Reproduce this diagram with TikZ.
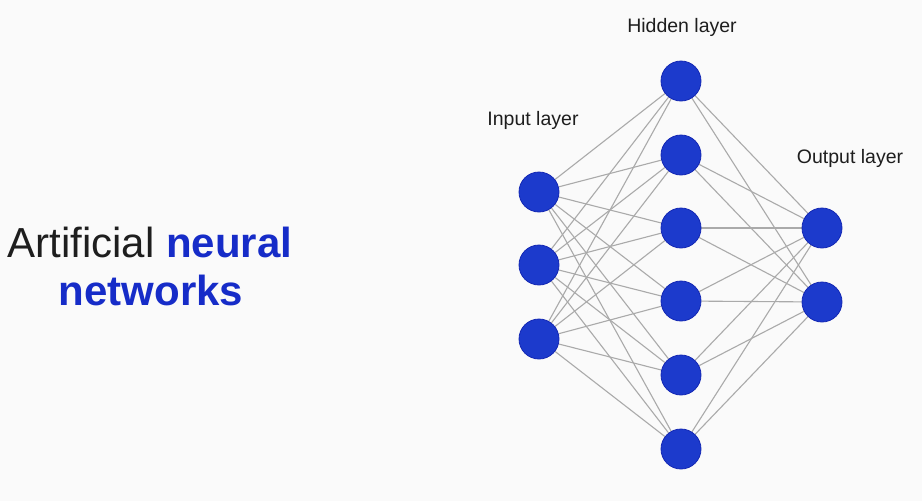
\documentclass[tikz,border=0pt]{standalone}
\usepackage{fontspec}
\setmainfont{Liberation Sans}
\definecolor{bg}{RGB}{250,250,250}
\definecolor{neuron}{RGB}{28,58,204}
\definecolor{neuronedge}{RGB}{20,40,180}
\definecolor{titleblue}{RGB}{22,44,200}
\definecolor{titlegray}{RGB}{30,30,30}
\definecolor{wire}{RGB}{170,170,170}
\pgfdeclarelayer{wires}
\pgfsetlayers{wires,main}
\begin{document}
\begin{tikzpicture}[x=1pt,y=-1pt,
  neuronstyle/.style={circle,minimum size=40pt,inner sep=0pt,fill=neuron,draw=neuronedge,line width=0.8pt},
  wirestyle/.style={draw=wire,line width=1.1pt},
  labelstyle/.style={anchor=base,font=\fontsize{19.5}{22}\selectfont,text=titlegray}]
\useasboundingbox (0,0) rectangle (922,501);
% nodes
\foreach \i/\y in {1/192,2/265,3/339} \node[neuronstyle] (in\i) at (539,\y) {};
\foreach \i/\y in {1/81,2/155,3/228,4/301,5/375,6/449} \node[neuronstyle] (h\i) at (681,\y) {};
\foreach \i/\y in {1/228,2/302} \node[neuronstyle] (out\i) at (822,\y) {};
% background and wires behind the nodes
\begin{pgfonlayer}{wires}
\fill[bg] (0,0) rectangle (922,501);
\foreach \a in {1,2,3} \foreach \b in {1,...,6} \draw[wirestyle] (in\a) -- (h\b);
\foreach \b in {1,...,6} \foreach \c in {1,2} \draw[wirestyle] (h\b) -- (out\c);
\end{pgfonlayer}
% labels
\node[labelstyle] (lh) at (682,32) {Hidden layer};
\node[labelstyle] (li) at (533,125) {Input layer};
\node[labelstyle] (lo) at (850,163) {Output layer};
% title
\node[anchor=base,font=\fontsize{42}{48}\selectfont] (t1) at (150,257) {\textcolor{titlegray}{Artificial} \textcolor{titleblue}{\bfseries neural}};
\node[anchor=base,font=\fontsize{42}{48}\selectfont\bfseries,text=titleblue] (t2) at (151,305) {networks};
\end{tikzpicture}
\end{document}
